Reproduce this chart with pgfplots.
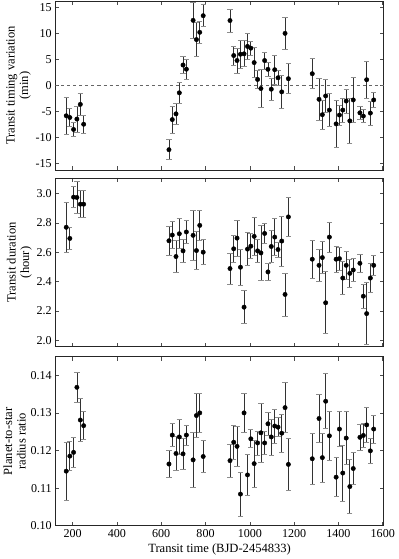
\documentclass[border=0pt]{standalone}
\usepackage{pgfplots}
\pgfplotsset{compat=1.18}
\usepackage{pgfplotstable}
\usepackage{fontspec}
\setmainfont{Liberation Serif}
\pgfplotstableread{
x ttv ttve dur dure rr rre
171.4 -5.87 3.5 2.771 0.173 0.1145 0.0077
187.7 -6.2 1.7 2.695 0.073 0.1185 0.0038
204.5 -8.5 1.4 2.977 0.071 0.1195 0.0041
219.5 -6.5 2.5 2.975 0.112 0.1368 0.0040
235.0 -3.67 2.1 2.929 0.092 0.1281 0.0057
250.0 -7.5 1.75 2.929 0.092 0.1266 0.0037
635.0 -12.4 1.95 2.679 0.099 0.1164 0.0036
650.0 -6.6 2.6 2.718 0.094 0.1241 0.0031
666.8 -5.5 2.1 2.571 0.109 0.1192 0.0045
681.8 -1.45 2.0 2.727 0.102 0.1236 0.0046
698.6 3.9 1.6 2.610 0.076 0.1191 0.0040
713.6 3.1 1.95 2.739 0.081 0.1241 0.0027
744.0 12.5 3.4 2.716 0.17 0.1175 0.0073
759.0 8.8 3.3 2.612 0.13 0.1293 0.0058
774.0 10.2 2.1 2.784 0.105 0.1300 0.0051
789.5 13.4 2.1 2.601 0.085 0.1184 0.0043
910.5 12.47 2.2 2.489 0.107 0.1173 0.0044
927.3 5.73 1.8 2.624 0.094 0.1222 0.0045
942.3 4.77 2.4 2.697 0.123 0.1211 0.0053
957.7 5.98 2.7 2.498 0.124 0.1084 0.0059
974.0 6.06 2.5 2.225 0.112 0.1300 0.0051
989.5 7.48 2.5 2.622 0.112 0.1135 0.0055
1004.5 7.15 1.4 2.642 0.086 0.1231 0.0024
1019.5 4.37 2.9 2.709 0.128 0.1165 0.0063
1035.0 1.13 1.7 2.610 0.080 0.1220 0.0032
1050.0 -0.62 3.6 2.596 0.19 0.1247 0.0078
1066.8 4.77 1.65 2.729 0.07 0.1220 0.0031
1081.8 3.08 1.4 2.466 0.058 0.1271 0.0030
1096.8 -0.75 2.1 2.640 0.109 0.1236 0.0048
1112.3 3.0 2.8 2.704 0.126 0.1265 0.0045
1127.3 1.45 1.4 2.619 0.052 0.1262 0.0025
1144.0 -1.27 3.1 2.677 0.172 0.1246 0.0050
1159.0 10.0 3.1 2.312 0.147 0.1314 0.0067
1174.0 1.27 2.9 2.842 0.134 0.1163 0.0070
1281.8 2.23 2.9 2.553 0.132 0.1178 0.0067
1312.3 -2.7 4.0 2.511 0.11 0.1285 0.0064
1327.3 -5.67 2.8 2.564 0.11 0.1181 0.0065
1342.3 -2.05 3.2 2.255 0.212 0.1331 0.0073
1359.0 -4.77 3.2 2.704 0.103 0.1239 0.0064
1389.5 -7.43 4.6 2.553 0.088 0.1129 0.0052
1404.5 -5.73 1.9 2.557 0.08 0.1257 0.0046
1419.5 -4.77 2.3 2.424 0.112 0.1140 0.0074
1435.0 -3.03 2.3 2.511 0.096 0.1233 0.0070
1451.4 -6.85 4.4 2.456 0.095 0.1104 0.0072
1466.8 -2.82 4.4 2.479 0.078 0.1152 0.0042
1496.8 -5.3 1.3 2.525 0.064 0.1235 0.0034
1512.3 -5.93 1.3 2.300 0.084 0.1240 0.0033
1527.3 1.07 3.6 2.181 0.212 0.1268 0.0046
1544.0 -5.35 2.3 2.424 0.10 0.1199 0.0033
1559.0 -2.82 1.5 2.511 0.066 0.1257 0.0037
}\datatable
\pgfplotsset{
  panel/.style={
    width=327pt, height=168pt, scale only axis,
    xmin=122, xmax=1605,
    xtick={200,400,...,1600},
    tick align=inside,
    tick pos=both,
    major tick length=4pt,
    every tick/.style={black!70, line width=0.6pt},
    axis line style={black!85, line width=0.8pt},
    /pgf/number format/assume math mode=true,
    tick label style={font=\fontsize{12}{14}\selectfont},
    label style={font=\fontsize{12.5}{13.5}\selectfont},
    ylabel style={align=center, yshift=-2pt},
  },
  pts/.style={
    only marks, mark=*, mark size=2.2pt, black,
    mark options={fill=black, draw=black},
    error bars/.cd, y dir=both, y explicit,
    error bar style={black!80, line width=0.7pt},
    error mark options={rotate=90, black!45, mark size=2.6pt, line width=0.7pt},
  },
}
\begin{document}
\begin{tikzpicture}
\begin{axis}[panel, at={(0,354pt)}, anchor=south west,
  ymin=-16.3, ymax=16.2, ytick={-15,-10,...,15},
  xticklabels={},
  ylabel={Transit timing variation\\(min)}]
\addplot[black!60, dashed, line width=0.6pt, forget plot] coordinates {(122,0) (1605,0)};
\addplot[pts] table[x=x, y=ttv, y error=ttve] {\datatable};
\end{axis}
\begin{axis}[panel, at={(0,178pt)}, anchor=south west,
  ymin=1.954, ymax=3.108, ytick={2.0,2.2,...,3.0},
  yticklabel style={/pgf/number format/.cd, fixed, fixed zerofill, precision=1},
  xticklabels={},
  ylabel={Transit duration\\(hour)}]
\addplot[pts] table[x=x, y=dur, y error=dure] {\datatable};
\end{axis}
\begin{axis}[panel, at={(0,0)}, anchor=south west,
  ymin=0.10, ymax=0.1449, ytick={0.10,0.11,...,0.14},
  yticklabel style={/pgf/number format/.cd, fixed, fixed zerofill, precision=2},
  xticklabel style={/pgf/number format/1000 sep={}},
  xlabel={Transit time (BJD-2454833)},
  ylabel={Planet-to-star\\radius ratio}]
\addplot[pts] table[x=x, y=rr, y error=rre] {\datatable};
\end{axis}
\end{tikzpicture}
\end{document}
